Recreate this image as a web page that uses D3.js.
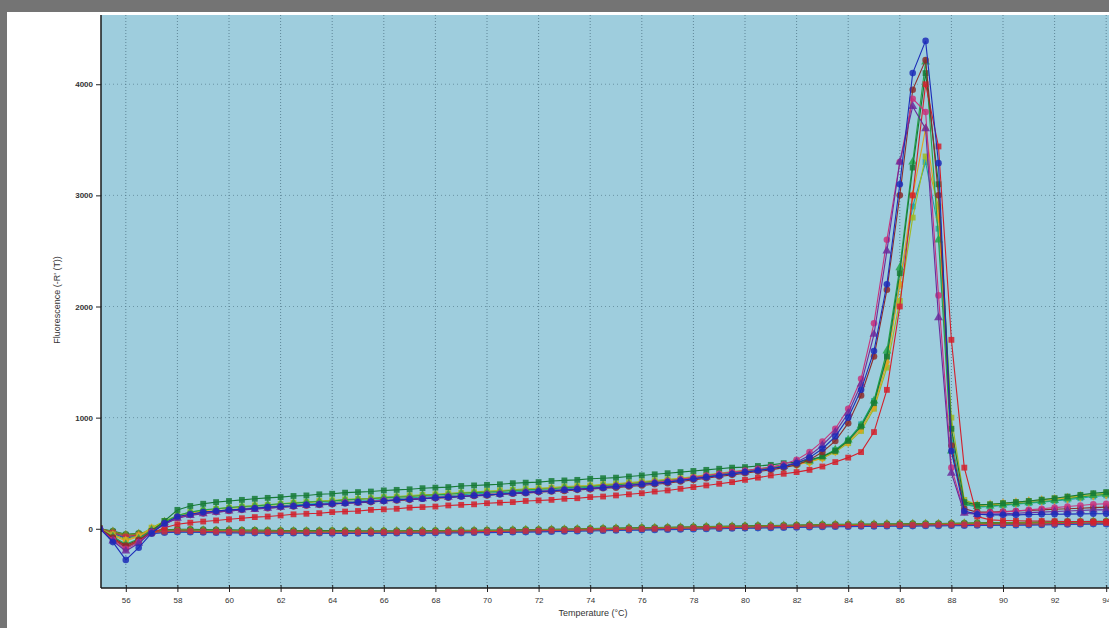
<!DOCTYPE html>
<html>
<head>
<meta charset="utf-8">
<script src="https://cdn.jsdelivr.net/npm/d3@7"></script>
<style>
html,body{margin:0;padding:0;background:#747474;}
svg{display:block;}
text{font-family:"Liberation Sans","DejaVu Sans",Arial,sans-serif;}
</style>
</head>
<body>
<svg id="chart" width="1109" height="628"></svg>
<script>
// ---------- DATA ----------
const temps = [55,55.5,56,56.5,57,57.5,58,58.5,59,59.5,
  60,60.5,61,61.5,62,62.5,63,63.5,64,64.5,
  65,65.5,66,66.5,67,67.5,68,68.5,69,69.5,
  70,70.5,71,71.5,72,72.5,73,73.5,74,74.5,
  75,75.5,76,76.5,77,77.5,78,78.5,79,79.5,
  80,80.5,81,81.5,82,82.5,83,83.5,84,84.5,
  85,85.5,86,86.5,87,87.5,88,88.5,89,89.5,
  90,90.5,91,91.5,92,92.5,93,93.5,94,94.5,95];

const xTickValues = [56,58,60,62,64,66,68,70,72,74,76,78,80,82,84,86,88,90,92,94];
const yTickValues = [0,1000,2000,3000,4000];

const seriesNames  = ["A1","A2","A3","A4","A5","A6","A7","A8","A9","A10","N1","N2","N3","N4","N5","N6"];
const seriesColors = ["#1c2cb8","#d3202c","#23a449","#c8337e","#e2a21e","#1fa3a6","#167a36","#6b2b9c","#8b2b2b","#9fba22","#2b9a3b","#1e7a2f","#22a0a0","#7c8a20","#2a40c0","#c83040"];
const seriesSymbols = ["circle","square","triangle","circle","diamond","square","square","triangle","circle","square","square","circle","square","triangle","circle","square"];

const vA1 = [0,-120,-280,-170,-40,50,110,130,150,160,
  170,175,185,195,200,205,215,220,225,230,
  240,245,250,260,265,270,280,285,290,300,
  305,310,320,325,335,340,350,355,365,370,
  380,390,400,410,420,435,450,465,480,495,
  510,525,540,560,590,640,720,830,1000,1250,
  1600,2200,3100,4100,4390,3290,700,160,130,125,
  125,125,128,130,130,132,134,135,135,110,60];
const vA2 = [0,-90,-160,-110,-40,10,40,55,65,75,
  85,95,105,110,120,130,135,140,150,155,
  160,170,175,180,190,195,200,210,215,220,
  230,235,240,250,255,260,270,275,285,290,
  300,310,320,335,345,360,375,390,405,420,
  440,460,480,495,510,530,560,600,640,690,
  870,1250,2000,3000,4000,3440,1700,550,110,80,
  75,72,70,70,68,66,65,65,64,50,30];
const vA3 = [0,-70,-140,-90,-10,60,120,150,170,180,
  190,200,205,215,225,230,240,245,250,260,
  265,270,280,285,290,300,305,310,320,325,
  330,335,345,350,355,360,370,375,380,390,
  395,405,415,425,435,445,460,475,490,505,
  520,535,550,565,585,610,650,710,800,930,
  1150,1600,2350,3300,4200,2600,700,230,200,205,
  215,225,235,245,255,270,285,300,310,260,170];
const vA4 = [0,-100,-180,-120,-30,40,100,125,140,155,
  165,175,180,190,200,205,210,220,225,235,
  240,250,255,260,270,275,280,290,295,300,
  310,315,320,330,335,345,350,360,365,375,
  385,395,405,415,430,445,460,480,495,510,
  525,540,555,580,620,690,786,900,1080,1350,
  1850,2600,3300,3870,3750,2100,550,150,140,145,
  150,160,170,180,190,200,210,220,225,190,120];
const vA5 = [0,-60,-110,-70,0,60,110,140,160,175,
  185,195,205,210,220,230,235,245,250,255,
  265,270,275,285,290,300,305,310,320,325,
  330,340,345,350,360,365,370,380,385,395,
  400,410,420,430,440,450,465,480,495,510,
  520,530,545,560,575,600,640,700,780,900,
  1100,1500,2200,3000,3600,2800,900,240,210,215,
  225,235,245,255,265,275,290,300,310,250,160];
const vA6 = [0,-80,-150,-100,-20,50,100,130,150,160,
  170,180,190,200,205,215,220,230,235,245,
  250,255,265,270,280,285,290,300,305,315,
  320,325,330,340,345,350,360,365,375,380,
  390,400,410,420,430,440,455,470,485,500,
  515,530,545,560,580,605,645,710,800,940,
  1150,1550,2200,2900,3300,2700,800,220,195,200,
  210,220,230,240,250,262,275,290,300,250,160];
const vA7 = [0,-90,-170,-110,-20,70,170,205,225,240,
  250,260,270,278,285,295,300,310,315,325,
  330,335,345,350,355,365,370,375,385,390,
  395,400,410,415,420,430,435,440,450,455,
  460,470,480,490,500,510,520,530,540,550,
  555,565,575,590,600,620,650,700,790,920,
  1130,1550,2300,3250,4100,3100,900,240,215,220,
  230,240,250,262,275,290,305,320,330,270,180];
const vA8 = [0,-110,-200,-130,-30,40,95,120,135,150,
  160,170,175,185,195,200,210,215,225,230,
  235,245,250,260,265,270,280,285,290,300,
  305,310,320,325,335,340,345,355,360,370,
  380,390,400,410,420,435,450,465,480,495,
  510,525,540,560,600,660,750,870,1040,1300,
  1750,2500,3300,3800,3600,1900,500,140,130,132,
  135,140,145,150,155,160,165,170,170,140,90];
const vA9 = [0,-80,-150,-100,-25,45,100,125,140,150,
  160,170,180,185,195,200,210,215,220,230,
  235,240,250,255,260,270,275,280,290,295,
  300,310,315,320,330,335,340,350,355,365,
  370,380,390,400,410,425,440,455,470,485,
  500,515,530,550,575,620,690,790,950,1200,
  1550,2150,3000,3950,4217,3000,750,180,150,150,
  155,160,165,170,175,180,185,190,195,160,100];
const vA10 = [0,-50,-100,-60,10,70,120,150,165,180,
  190,200,210,215,225,235,240,250,255,265,
  270,275,285,290,300,305,310,320,325,330,
  340,345,350,360,365,370,380,385,390,400,
  405,415,425,435,445,455,470,485,500,515,
  525,540,550,565,580,600,635,690,770,880,
  1080,1450,2050,2800,3350,2900,1000,260,215,220,
  230,240,250,260,272,285,298,310,320,260,170];
const vN1 = [0,-30,-60,-50,-30,-20,-15,-15,-20,-20,
  -20,-22,-22,-24,-25,-25,-26,-26,-27,-27,
  -28,-28,-28,-28,-28,-27,-27,-26,-25,-24,
  -23,-22,-20,-18,-16,-14,-12,-10,-8,-6,
  -4,-2,0,2,4,6,8,10,12,14,
  16,18,20,22,24,26,28,30,32,33,
  34,35,36,37,38,40,42,44,45,46,
  47,48,50,52,54,56,58,60,60,55,45];
const vN2 = [0,-20,-50,-40,-20,-10,-5,-5,-8,-10,
  -10,-12,-12,-14,-15,-15,-16,-16,-17,-17,
  -18,-18,-18,-18,-17,-16,-16,-15,-14,-13,
  -12,-11,-10,-8,-6,-4,-2,0,2,4,
  6,8,10,12,14,16,18,20,22,24,
  26,28,30,32,34,36,38,40,41,42,
  43,44,45,46,47,48,50,52,54,55,
  56,57,58,60,62,64,66,68,68,62,50];
const vN3 = [0,-40,-75,-60,-40,-30,-26,-28,-30,-32,
  -33,-34,-35,-36,-36,-37,-37,-38,-38,-38,
  -38,-38,-37,-37,-36,-36,-35,-34,-33,-32,
  -31,-30,-28,-26,-24,-22,-20,-18,-16,-14,
  -12,-10,-8,-6,-4,-2,0,2,4,6,
  8,10,12,14,16,18,20,22,23,24,
  25,26,27,28,29,30,31,32,33,34,
  35,36,37,38,40,42,44,46,46,42,35];
const vN4 = [0,-25,-55,-45,-25,-15,-10,-10,-14,-16,
  -16,-18,-18,-20,-20,-21,-21,-22,-22,-22,
  -22,-22,-22,-21,-21,-20,-20,-19,-18,-17,
  -16,-15,-13,-11,-9,-7,-5,-3,-1,1,
  3,5,7,9,11,13,15,17,19,21,
  23,25,27,29,31,33,35,37,38,39,
  40,41,42,43,44,45,47,49,51,52,
  53,54,56,58,60,62,64,66,66,60,48];
const vN5 = [0,-45,-85,-65,-45,-35,-30,-32,-34,-36,
  -37,-38,-39,-40,-40,-41,-41,-41,-42,-42,
  -42,-42,-41,-41,-40,-40,-39,-38,-37,-36,
  -35,-34,-32,-30,-28,-26,-24,-22,-20,-18,
  -16,-14,-12,-10,-8,-6,-4,-2,0,2,
  4,6,8,10,12,14,16,18,19,20,
  21,22,23,24,25,26,27,28,29,30,
  31,32,33,34,36,38,40,42,42,38,30];
const vN6 = [0,-35,-70,-55,-35,-25,-20,-22,-24,-26,
  -27,-28,-29,-30,-30,-31,-31,-32,-32,-32,
  -32,-32,-31,-31,-30,-30,-29,-28,-27,-26,
  -25,-24,-22,-20,-18,-16,-14,-12,-10,-8,
  -6,-4,-2,0,2,4,6,8,10,12,
  14,16,18,20,22,24,26,28,29,30,
  31,32,33,34,35,36,37,38,39,40,
  41,42,43,44,46,48,50,52,52,48,40];

const seriesValues = [vA1,vA2,vA3,vA4,vA5,vA6,vA7,vA8,vA9,vA10,vN1,vN2,vN3,vN4,vN5,vN6];

// ---------- LAYOUT ----------
const W = 1109, H = 628;
const plot = {left:101, top:15, right:1109, bottom:588};
const svg = d3.select("#chart");

svg.append("rect").attr("x",7).attr("y",12).attr("width",W-7).attr("height",H-12).attr("fill","#ffffff");
svg.append("rect").attr("x",plot.left).attr("y",plot.top)
  .attr("width",plot.right-plot.left).attr("height",plot.bottom-plot.top)
  .attr("fill","#9ecddd");

const x = d3.scaleLinear().domain([55,95]).range([100,1132]);
const y = d3.scaleLinear().domain([-533,4623]).range([plot.bottom, plot.top]);

svg.append("clipPath").attr("id","clip").append("rect")
  .attr("x",plot.left).attr("y",plot.top).attr("width",plot.right-plot.left).attr("height",plot.bottom-plot.top);

// gridlines
const grid = svg.append("g").attr("clip-path","url(#clip)");
grid.selectAll("line.vg").data(xTickValues).join("line")
  .attr("x1",d=>x(d)).attr("x2",d=>x(d)).attr("y1",plot.top).attr("y2",plot.bottom)
  .attr("stroke","#4a6f80").attr("stroke-opacity",0.75).attr("stroke-width",1)
  .attr("stroke-dasharray","1,2");
grid.selectAll("line.hg").data(yTickValues.filter(d=>d!==0)).join("line")
  .attr("x1",plot.left).attr("x2",plot.right).attr("y1",d=>y(d)).attr("y2",d=>y(d))
  .attr("stroke","#4a6f80").attr("stroke-opacity",0.6).attr("stroke-width",1)
  .attr("stroke-dasharray","1,3");

// series
const g = svg.append("g").attr("clip-path","url(#clip)");
const line = d3.line().x((d,i)=>x(temps[i])).y(d=>y(d));
const symMap = {circle:d3.symbolCircle, square:d3.symbolSquare, triangle:d3.symbolTriangle, diamond:d3.symbolDiamond};
const order = [10,11,12,13,14,15,5,9,4,2,6,1,8,3,7,0];
order.forEach(si=>{
  const vals = seriesValues[si];
  const col = seriesColors[si];
  const sg = g.append("g").attr("class","series").attr("data-name",seriesNames[si]);
  sg.append("path").datum(vals).attr("d",line).attr("fill","none")
    .attr("stroke",col).attr("stroke-width",1.1);
  const sym = d3.symbol().type(symMap[seriesSymbols[si]]).size(34);
  sg.selectAll("path.m").data(vals).join("path").attr("class","m")
    .attr("transform",(d,i)=>`translate(${x(temps[i])},${y(d)})`)
    .attr("d",sym()).attr("fill",col).attr("fill-opacity",0.85);
});

// axes
const xAxis = d3.axisBottom(x).tickValues(xTickValues).tickFormat(d3.format("d")).tickSize(4).tickPadding(5);
const xMinor = d3.axisBottom(x).tickValues(temps.filter(t=>t<95 && Number.isInteger(t))).tickFormat("").tickSize(3);
const gx = svg.append("g").attr("transform",`translate(0,${plot.bottom})`);
gx.call(xMinor);
gx.call(xAxis);
gx.select(".domain").remove();
gx.selectAll("text").attr("font-size",8).attr("fill","#333");
gx.selectAll(".tick line").attr("stroke","#222").attr("y1",-3);

const yAxis = d3.axisLeft(y).tickValues(yTickValues).tickFormat(d3.format("d")).tickSize(5).tickPadding(3);
const yMinor = d3.axisLeft(y).tickValues([-500,500,1500,2500,3500,4500]).tickFormat("").tickSize(4);
const gy = svg.append("g").attr("transform",`translate(${plot.left},0)`);
gy.call(yMinor);
gy.call(yAxis);
gy.select(".domain").remove();
gy.selectAll("text").attr("font-size",8).attr("font-weight","bold").attr("fill","#333");
gy.selectAll(".tick line").attr("stroke","#222");

// axis lines
svg.append("line").attr("x1",plot.left).attr("x2",plot.left).attr("y1",plot.top).attr("y2",plot.bottom)
  .attr("stroke","#1a1a1a").attr("stroke-width",1.5);
svg.append("line").attr("x1",plot.left).attr("x2",plot.right).attr("y1",plot.bottom).attr("y2",plot.bottom)
  .attr("stroke","#1a1a1a").attr("stroke-width",1.5);

// titles
svg.append("text").attr("x",593).attr("y",616).attr("text-anchor","middle")
  .attr("font-size",9).attr("fill","#333").text("Temperature (°C)");
svg.append("text").attr("transform","translate(60,300) rotate(-90)").attr("text-anchor","middle")
  .attr("font-size",9).attr("fill","#333").text("Fluorescence (-R' (T))");
</script>
</body>
</html>
